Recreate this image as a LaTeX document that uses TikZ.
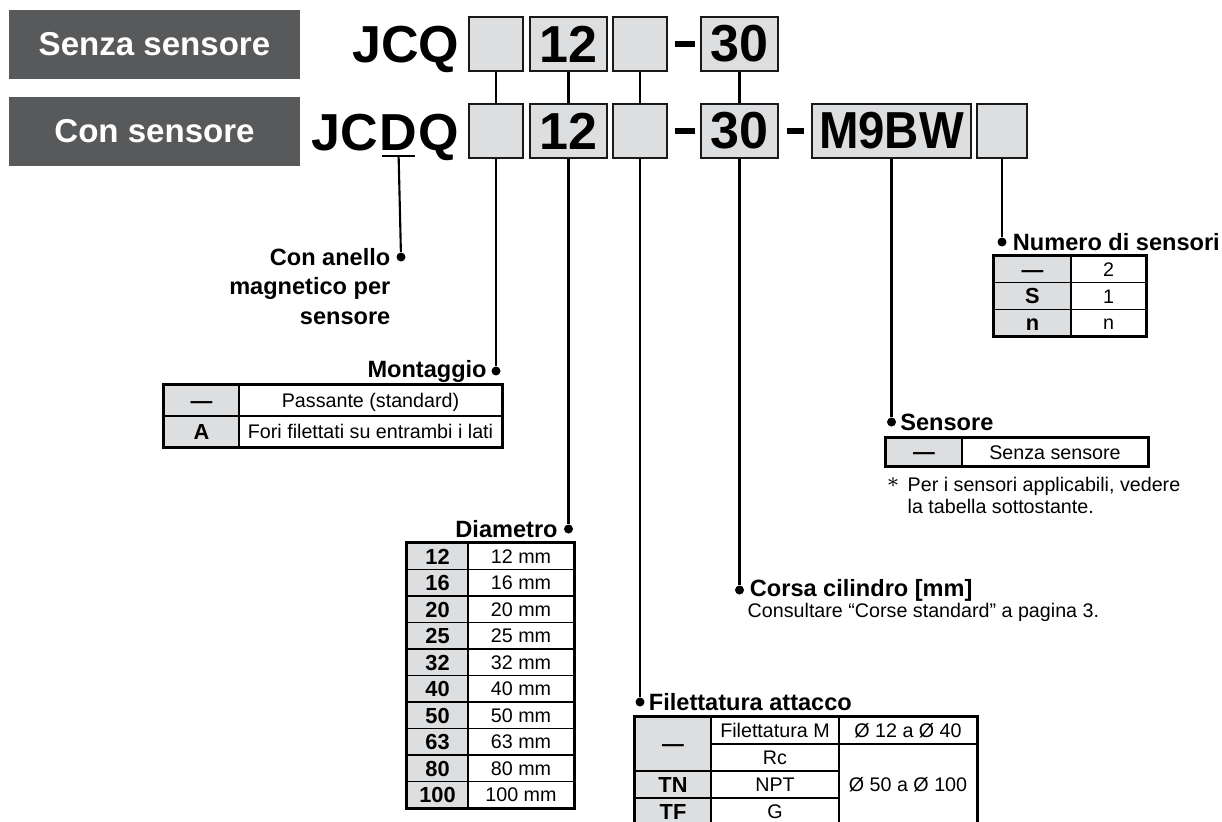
\documentclass[tikz,border=0pt]{standalone}
\usepackage{fontspec}
\setmainfont{Liberation Sans}
\usetikzlibrary{positioning}
\definecolor{tagfill}{HTML}{58595B}
\definecolor{cellfill}{HTML}{DDDEE0}

\begin{document}
\begin{tikzpicture}[
  x=0.01cm, y=-0.01cm,
  tag/.style={fill=tagfill, text=white, font=\fontsize{9.4}{11}\selectfont\bfseries, minimum width=2.91cm, minimum height=0.69cm, inner sep=0pt},
  code/.style={font=\fontsize{14.8}{17}\selectfont\bfseries, inner sep=0pt},
  slot/.style={draw=black!90, fill=cellfill, line width=0.5pt, minimum height=0.54cm, inner sep=0pt, font=\fontsize{14.8}{17}\selectfont\bfseries},
  dot/.style={circle, fill=black, inner sep=0pt, minimum size=0.09cm},
  link/.style={line width=0.6pt},
  bar/.style={line width=1.6pt},
  lbl/.style={font=\fontsize{6.7}{8.3}\selectfont\bfseries, inner sep=0pt},
  note/.style={font=\fontsize{5.6}{6}\selectfont, inner sep=0pt},
  keycell/.style={draw, fill=cellfill, line width=0.45pt, inner sep=0pt, text height=4.4pt, text depth=0pt, font=\fontsize{6.2}{7}\selectfont\bfseries},
  valcell/.style={draw, line width=0.45pt, inner sep=0pt, text height=4pt, text depth=0pt, font=\fontsize{5.6}{6.6}\selectfont},
  frame/.style={line width=0.7pt}
]
  \useasboundingbox (0,0) rectangle (1222,821);

  % Tags
  \node[tag] (nosens) at (154.5,44.5) {Senza sensore};
  \node[tag] (withsens) at (154.5,131.5) {Con sensore};

  % Code without sensor
  \node[code, anchor=base east] (jcq) at (460,62) {JCQ};
  \node[slot, minimum width=0.54cm] (t1) at (496,44) {};
  \node[slot, minimum width=0.77cm] (t2) at (568.5,44) {12};
  \node[slot, minimum width=0.54cm] (t3) at (640,44) {};
  \node[slot, minimum width=0.77cm] (t4) at (739.5,44) {30};

  % Code with sensor
  \node[code, anchor=base east] (q) at (460,150) {Q};
  \node[code, anchor=base east] (d) at (q.base west) {D};
  \node[code, anchor=base east] (jc) at (d.base west) {JC};
  \node[slot, minimum width=0.54cm] (b1) at (496,131) {};
  \node[slot, minimum width=0.77cm] (b2) at (568.5,131) {12};
  \node[slot, minimum width=0.54cm] (b3) at (640,131) {};
  \node[slot, minimum width=0.77cm] (b4) at (739.5,131) {30};
  \node[slot, minimum width=1.59cm] (b5) at (891.5,131) {\scalebox{0.91}[1]{M9BW}};
  \node[slot, minimum width=0.50cm] (b6) at (1002,131) {};

  % Hyphens
  \draw[bar, shorten <=0.07cm, shorten >=0.05cm] (t3.east) -- (t4.west);
  \draw[bar, shorten <=0.07cm, shorten >=0.05cm] (b3.east) -- (b4.west);
  \draw[bar, shorten <=0.08cm, shorten >=0.07cm] (b4.east) -- (b5.west);

  \foreach \s in {1,...,4}
    \draw[link] (t\s.south) -- (b\s.north);

  % D underline
  \coordinate (dbar) at ([yshift=-0.06cm]d.base);
  \draw[link] ([xshift=-0.165cm]dbar) -- ([xshift=0.165cm]dbar);

  % Dots
  \node[dot] (ringdot) at (401,257) {};
  \node[dot] (mntdot) at (496,371) {};
  \node[dot] (diadot) at (568.5,529) {};
  \node[dot] (portdot) at (640,702) {};
  \node[dot] (strokedot) at (739.5,590) {};
  \node[dot] (sensdot) at (891.5,422) {};
  \node[dot] (numdot) at (1002,242) {};

  % Leaders
  \draw[link] (dbar) -- (ringdot);
  \draw[link] (b1.south) -- (mntdot);
  \draw[link] (b2.south) -- (diadot);
  \draw[link] (b3.south) -- (portdot);
  \draw[link] (b4.south) -- (strokedot);
  \draw[link] (b5.south) -- (sensdot);
  \draw[link] (b6.south) -- (numdot);

  % Labels
  \node[lbl, align=right, anchor=north east] (ringlbl) at (391,248) {Con anello\\magnetico per\\sensore};
  \node[lbl, left=0.035cm of mntdot] (mntlbl) {Montaggio};
  \node[lbl, left=0.05cm of diadot] (dialbl) {Diametro};
  \node[lbl, right=0.03cm of portdot] (portlbl) {Filettatura attacco};
  \node[lbl, right=0.045cm of strokedot] (strokelbl) {Corsa cilindro [mm]};
  \node[note, anchor=west] (strokenote) at (747,612) {Consultare “Corse standard” a pagina 3.};
  \node[lbl, right=0.03cm of sensdot] (senslbl) {Sensore};
  \node[lbl, right=0.05cm of numdot] (numlbl) {Numero di sensori};

  % Mounting table
  \node[keycell, minimum width=0.75cm, minimum height=0.31cm] (mk1) at (201.5,400.5) {—};
  \node[valcell, minimum width=2.63cm, minimum height=0.31cm] (mv1) at (370.5,400.5) {Passante (standard)};
  \node[keycell, minimum width=0.75cm, minimum height=0.31cm] (mk2) at (201.5,431.5) {A};
  \node[valcell, minimum width=2.63cm, minimum height=0.31cm] (mv2) at (370.5,431.5) {Fori filettati su entrambi i lati};
  \draw[frame] (mk1.north west) rectangle (mv2.south east);

  % Bore table
  \foreach \d [count=\i] in {12,16,20,25,32,40,50,63,80,100} {
    \node[keycell, minimum width=0.61cm, minimum height=0.265cm] (dk\i) at (437.5,{529.75+26.5*\i}) {\d};
    \node[valcell, minimum width=1.06cm, minimum height=0.265cm] (dv\i) at (521,{529.75+26.5*\i}) {\d\ mm};
  }
  \draw[frame] (dk1.north west) rectangle (dv10.south east);

  % Port table
  \node[keycell, minimum width=0.76cm, minimum height=0.54cm] (pk1) at (673,744) {—};
  \node[keycell, minimum width=0.76cm, minimum height=0.27cm] (pk2) at (673,784.5) {TN};
  \node[keycell, minimum width=0.76cm, minimum height=0.27cm] (pk3) at (673,811.5) {TF};
  \foreach \t [count=\i] in {Filettatura M, Rc, NPT, G}
    \node[valcell, minimum width=1.28cm, minimum height=0.27cm] (pv\i) at (775,{703.5+27*\i}) {\t};
  \node[valcell, minimum width=1.38cm, minimum height=0.27cm] (pr1) at (908,730.5) {Ø 12 a Ø 40};
  \node[valcell, minimum width=1.38cm, minimum height=0.81cm] (pr2) at (908,784.5) {Ø 50 a Ø 100};
  \draw[frame] (pk1.north west) rectangle (pr2.south east);

  % Sensor count table
  \foreach \k/\v [count=\i] in {—/2, S/1, n/n} {
    \node[keycell, minimum width=0.77cm, minimum height=0.267cm] (nk\i) at (1032.5,{242.67+26.67*\i}) {\k};
    \node[valcell, minimum width=0.75cm, minimum height=0.267cm] (nv\i) at (1108.5,{242.67+26.67*\i}) {\v};
  }
  \draw[frame] (nk1.north west) rectangle (nv3.south east);

  % Sensor table
  \node[keycell, minimum width=0.76cm, minimum height=0.28cm] (sk1) at (924,452) {—};
  \node[valcell, minimum width=1.86cm, minimum height=0.28cm] (sv1) at (1055,452) {Senza sensore};
  \draw[frame] (sk1.north west) rectangle (sv1.south east);
  \node[note] (star) at (893,483) {$\ast$};
  \node[note, anchor=north west, align=left] (sensnote) at (907,477) {Per i sensori applicabili, vedere\\la tabella sottostante.};
\end{tikzpicture}
\end{document}
